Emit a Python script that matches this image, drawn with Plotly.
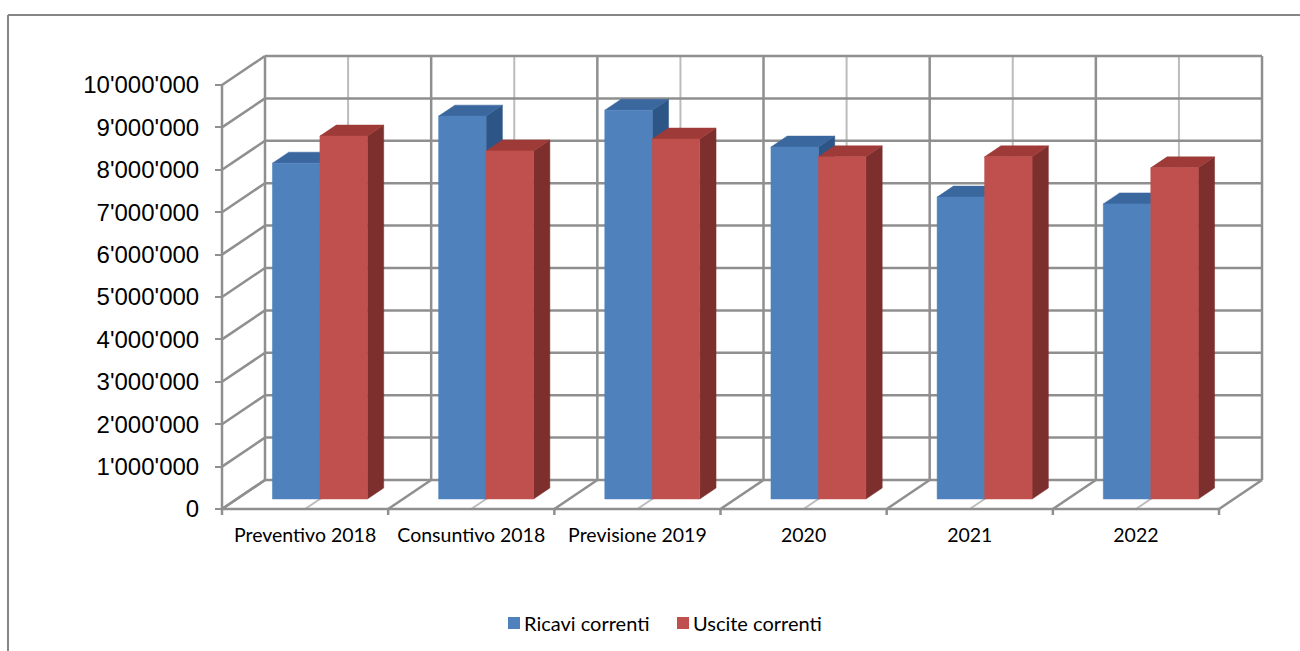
import plotly.graph_objects as go

# ---------------- data ----------------
categories = ["Preventivo 2018", "Consuntivo 2018", "Previsione 2019", "2020", "2021", "2022"]
series_names = ["Ricavi correnti", "Uscite correnti"]
ricavi = [7920000, 9030000, 9170000, 8300000, 7120000, 6960000]
uscite = [8560000, 8210000, 8490000, 8070000, 8070000, 7810000]
y_tickvals = [0, 1000000, 2000000, 3000000, 4000000, 5000000,
              6000000, 7000000, 8000000, 9000000, 10000000]
y_ticktext = ["0", "1'000'000", "2'000'000", "3'000'000", "4'000'000", "5'000'000",
              "6'000'000", "7'000'000", "8'000'000", "9'000'000", "10'000'000"]

# ---------------- layout geometry (pixels) ----------------
W, H = 1300, 651
X0_PX = 222.0          # front-left corner of the floor
CAT_PX = 166.17        # width of one category at the front
Y0_PX = 509.0          # value 0 on the front axis
PX_PER_UNIT = 42.4 / 1e6
DEPTH_DX_PX, DEPTH_DY_PX = 43.0, 29.0

DX = DEPTH_DX_PX / CAT_PX
DY = DEPTH_DY_PX / PX_PER_UNIT
F0, F1 = 0.345, 0.724          # bar front / back depth fractions
BAR_W = 1 / 3.5
BAR_OFF = 0.75 / 3.5
N = len(categories)
YMAX = y_tickvals[-1]

x_range = [-X0_PX / CAT_PX, (W - X0_PX) / CAT_PX]
y_range = [-(H - Y0_PX) / PX_PER_UNIT, Y0_PX / PX_PER_UNIT]


def P(x, y, d):
    return x + d * DX, y + d * DY


def add_poly(xs, ys, pts):
    for (x, y) in pts + [pts[0]]:
        xs.append(x)
        ys.append(y)
    xs.append(None)
    ys.append(None)


def add_seg(xs, ys, a, b):
    xs += [a[0], b[0], None]
    ys += [a[1], b[1], None]


fig = go.Figure()

# ---------------- gridlines / walls ----------------
gx, gy = [], []      # darker lines
mx, my = [], []      # lighter lines
for v in y_tickvals:
    add_seg(gx, gy, P(0, v, 1), P(N, v, 1))          # back wall horizontal
    add_seg(gx, gy, P(0, v, 0), P(0, v, 1))          # left wall diagonal
for k in range(N + 1):
    add_seg(gx, gy, P(k, 0, 1), P(k, YMAX, 1))       # back wall vertical
    add_seg(gx, gy, P(k, 0, 0), P(k, 0, 1))          # floor diagonal
    add_seg(gx, gy, (k, 0), (k, -6 / PX_PER_UNIT))   # tick marks
for k in range(N):
    c = k + 0.5
    add_seg(mx, my, P(c, 0, 1), P(c, YMAX, 1))
    add_seg(mx, my, P(c, 0, 0), P(c, 0, 1))
add_seg(gx, gy, (0, 0), (N, 0))                       # floor front edge
add_seg(gx, gy, (0, 0), (0, YMAX))                    # front value axis

fig.add_trace(go.Scatter(x=mx, y=my, mode="lines", line=dict(color="#bcbcbc", width=2),
                         hoverinfo="skip", showlegend=False, cliponaxis=False))
fig.add_trace(go.Scatter(x=gx, y=gy, mode="lines", line=dict(color="#8f8f8f", width=2.5),
                         hoverinfo="skip", showlegend=False, cliponaxis=False))

# ---------------- 3D bars ----------------
colors = {
    0: dict(front="#4F81BD", top="#3A679E", side="#2D5687"),
    1: dict(front="#C0504D", top="#9E3A37", side="#7D2F2D"),
}
for s, vals in enumerate([ricavi, uscite]):
    fx, fy, tx, ty, sx, sy = [], [], [], [], [], []
    for i, v in enumerate(vals):
        a = i + BAR_OFF + s * BAR_W
        b = a + BAR_W
        add_poly(fx, fy, [P(a, 0, F0), P(b, 0, F0), P(b, v, F0), P(a, v, F0)])
        add_poly(tx, ty, [P(a, v, F0), P(b, v, F0), P(b, v, F1), P(a, v, F1)])
        add_poly(sx, sy, [P(b, 0, F0), P(b, 0, F1), P(b, v, F1), P(b, v, F0)])
    col = colors[s]
    for xs, ys, c in [(sx, sy, col["side"]), (tx, ty, col["top"]), (fx, fy, col["front"])]:
        fig.add_trace(go.Scatter(x=xs, y=ys, mode="lines", fill="toself", fillcolor=c,
                                 line=dict(color=c, width=0.5), hoverinfo="skip",
                                 showlegend=False, name=series_names[s]))

# ---------------- legend (manual) ----------------
legend_items = [(508, series_names[0], colors[0]["front"]),
                (677, series_names[1], colors[1]["front"])]
shapes = []
annotations = []
LEG_Y = 623
for xpx, name, c in legend_items:
    shapes.append(dict(type="rect", xref="paper", yref="paper",
                       x0=xpx / W, x1=(xpx + 12) / W,
                       y0=1 - (LEG_Y + 6) / H, y1=1 - (LEG_Y - 6) / H,
                       fillcolor=c, line=dict(width=0)))
    annotations.append(dict(xref="paper", yref="paper", x=(xpx + 14) / W, y=1 - LEG_Y / H,
                            text=name, showarrow=False, xanchor="left", yanchor="middle",
                            font=dict(family="Lato", size=20, color="#000000")))

# outer chart border (top and left visible)
shapes.append(dict(type="line", xref="paper", yref="paper", x0=8 / W, x1=1.0,
                   y0=1 - 15 / H, y1=1 - 15 / H, line=dict(color="#868686", width=2)))
shapes.append(dict(type="line", xref="paper", yref="paper", x0=8 / W, x1=8 / W,
                   y0=1 - 15 / H, y1=0, line=dict(color="#868686", width=2)))

fig.update_layout(
    width=W, height=H,
    margin=dict(l=0, r=0, t=0, b=0),
    paper_bgcolor="white", plot_bgcolor="white",
    shapes=shapes, annotations=annotations,
    showlegend=False,
    xaxis=dict(range=x_range, domain=[0, 1], anchor="free", position=(H - Y0_PX) / H,
               tickmode="array", tickvals=[i + 0.5 for i in range(N)], ticktext=categories,
               ticks="", showgrid=False, zeroline=False, showline=False,
               tickfont=dict(family="Lato", size=19.5, color="#000000"),
               ticklabelstandoff=12, fixedrange=True),
    yaxis=dict(range=y_range, domain=[0, 1], anchor="free", position=X0_PX / W,
               tickmode="array", tickvals=y_tickvals, ticktext=y_ticktext,
               ticks="outside", ticklen=7, tickwidth=2, tickcolor="#8f8f8f",
               showgrid=False, zeroline=False, showline=False,
               tickfont=dict(family="Liberation Sans", size=24, color="#000000"),
               ticklabelstandoff=11, fixedrange=True),
)

fig.write_html("out.html")
